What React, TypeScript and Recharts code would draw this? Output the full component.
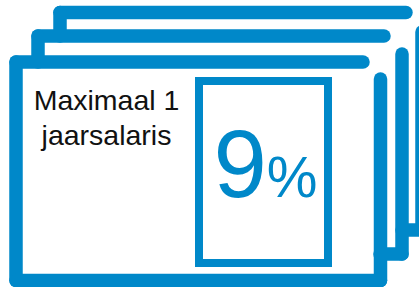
import React from 'react';
import { ComposedChart, XAxis, YAxis, ReferenceLine, ReferenceArea } from 'recharts';

// values shown on the card
const labelLines = ['Maximaal 1', 'jaarsalaris'];
const shareValues = [9];
const shareUnit = '%';

const W = 419;
const H = 287;
const BLUE = '#0088c9';
const FRAME_W = 13.5;

// stacked card outlines, in chart units (x right, y down)
const frames: [number, number, number, number][] = [
  // back card
  [60, 12.5, 406, 12.5],
  [60, 12.5, 60, 36],
  [422, 32, 422, 230],
  [402, 230, 430, 230],
  // middle card
  [38, 36, 384, 36],
  [38, 36, 38, 62],
  [402, 54, 402, 254],
  [380, 254, 402, 254],
  // front card
  [16, 62, 363, 62],
  [16, 62, 16, 280.5],
  [16, 280.5, 380.5, 280.5],
  [380.5, 79, 380.5, 280.5],
];

const chartData = shareValues.map((v) => ({ value: v }));

function CaptionLabel(props: any) {
  const { viewBox } = props;
  const cx = viewBox.x + viewBox.width / 2;
  return (
    <text
      fill="#111"
      fontFamily="'Liberation Sans', Arial, sans-serif"
      fontSize={28.5}
      textAnchor="middle"
    >
      {labelLines.map((line, i) => (
        <tspan key={line} x={cx} y={viewBox.y + 41 + i * 35}>
          {line}
        </tspan>
      ))}
    </text>
  );
}

function ShareLabel(props: any) {
  const { viewBox } = props;
  const cx = viewBox.x + viewBox.width / 2 + 2;
  return (
    <text
      x={cx}
      y={197}
      fill={BLUE}
      fontFamily="'Liberation Sans', Arial, sans-serif"
      textAnchor="middle"
    >
      <tspan fontSize={96}>{shareValues[0]}</tspan>
      <tspan fontSize={57}>{shareUnit}</tspan>
    </text>
  );
}

export default function App() {
  return (
    <div style={{ position: 'absolute', left: 0, top: 0, background: '#fff' }}>
      <ComposedChart
        width={W}
        height={H}
        data={chartData}
        margin={{ top: 0, right: 0, bottom: 0, left: 0 }}
      >
        <XAxis type="number" dataKey="value" domain={[0, W]} hide allowDataOverflow />
        <YAxis type="number" domain={[0, H]} reversed hide allowDataOverflow />
        {frames.map(([x1, y1, x2, y2], i) => (
          <ReferenceLine
            key={`f-${i}`}
            segment={[
              { x: x1, y: y1 },
              { x: x2, y: y2 },
            ]}
            stroke={BLUE}
            strokeWidth={FRAME_W}
            strokeLinecap="round"
            ifOverflow="visible"
          />
        ))}
        <ReferenceArea
          x1={23}
          x2={190}
          y1={69}
          y2={160}
          fill="none"
          stroke="none"
          ifOverflow="visible"
          label={<CaptionLabel />}
        />
        <ReferenceArea
          x1={199}
          x2={328}
          y1={81}
          y2={263}
          fill="#fff"
          fillOpacity={1}
          stroke={BLUE}
          strokeWidth={8}
          ifOverflow="visible"
          label={<ShareLabel />}
        />
      </ComposedChart>
    </div>
  );
}
